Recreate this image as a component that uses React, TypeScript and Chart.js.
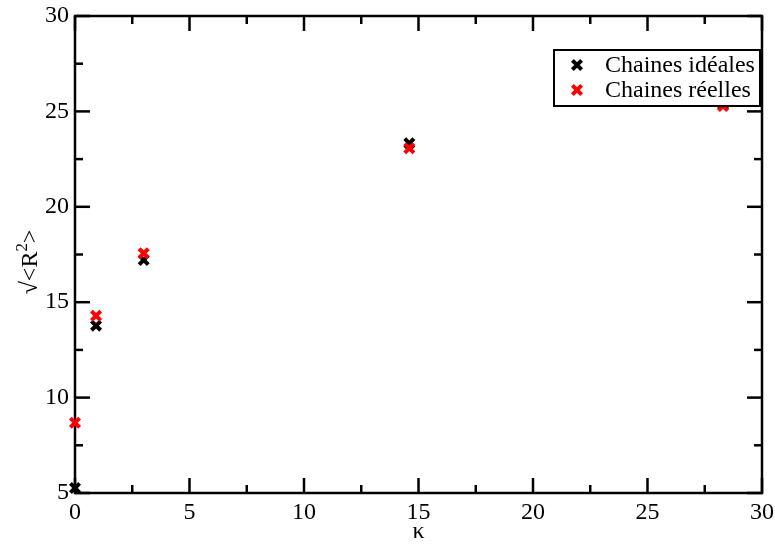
import React, { useEffect, useRef } from "react";
import { Chart, registerables } from "chart.js";

Chart.register(...registerables);

// ---- Data ----
const kappaIdeal = [0, 0.92, 3.0, 14.6, 28.3];
const rIdeal = [5.26, 13.77, 17.21, 23.33, 25.35];
const kappaReal = [0, 0.92, 3.0, 14.6, 28.3];
const rReal = [8.68, 14.29, 17.56, 23.07, 25.28];

const seriesLabels = ["Chaines idéales", "Chaines réelles"];
const seriesColors = ["#000000", "#ff0000"];
const xTitle = "κ";
const yTitleParts = ["√<R", "2", ">"];
const xMajorTicks = [0, 5, 10, 15, 20, 25, 30];
const xMinorTicks = [2.5, 7.5, 12.5, 17.5, 22.5, 27.5];
const yMajorTicks = [5, 10, 15, 20, 25, 30];
const yMinorTicks = [7.5, 12.5, 17.5, 22.5, 27.5];

const FONT = '"Liberation Serif", "Times New Roman", serif';
const FS = 24;

function drawCross(ctx: CanvasRenderingContext2D, cx: number, cy: number, color: string) {
  const o = 4.6;
  ctx.save();
  ctx.strokeStyle = color;
  ctx.lineWidth = 4;
  ctx.beginPath();
  ctx.moveTo(cx - o, cy - o);
  ctx.lineTo(cx + o, cy + o);
  ctx.moveTo(cx + o, cy - o);
  ctx.lineTo(cx - o, cy + o);
  ctx.stroke();
  ctx.restore();
}

const framePlugin = {
  id: "frameDecor",
  beforeDatasetsDraw(chart: any) {
    const { ctx, chartArea } = chart;
    const { left, right, top, bottom } = chartArea;
    const xs = chart.scales.x;
    const ys = chart.scales.y;
    ctx.save();
    ctx.strokeStyle = "#000";
    ctx.lineWidth = 2.5;
    ctx.strokeRect(left, top, right - left, bottom - top);

    const line = (x1: number, y1: number, x2: number, y2: number) => {
      ctx.beginPath();
      ctx.moveTo(x1, y1);
      ctx.lineTo(x2, y2);
      ctx.stroke();
    };
    const MAJ = 15;
    const MIN = 8;
    xMajorTicks.forEach((v) => {
      const p = xs.getPixelForValue(v);
      line(p, bottom, p, bottom - MAJ);
      line(p, top, p, top + MAJ);
    });
    xMinorTicks.forEach((v) => {
      const p = xs.getPixelForValue(v);
      line(p, bottom, p, bottom - MIN);
      line(p, top, p, top + MIN);
    });
    yMajorTicks.forEach((v) => {
      const p = ys.getPixelForValue(v);
      line(left, p, left + MAJ, p);
      line(right, p, right - MAJ, p);
    });
    yMinorTicks.forEach((v) => {
      const p = ys.getPixelForValue(v);
      line(left, p, left + MIN, p);
      line(right, p, right - MIN, p);
    });

    // Axis titles
    ctx.fillStyle = "#000";
    ctx.font = `${FS}px ${FONT}`;
    ctx.textAlign = "center";
    ctx.textBaseline = "alphabetic";
    ctx.fillText(xTitle, (left + right) / 2, 538);

    ctx.save();
    ctx.translate(37, 262);
    ctx.rotate(-Math.PI / 2);
    ctx.textAlign = "left";
    ctx.font = `${FS}px ${FONT}`;
    const w0 = ctx.measureText(yTitleParts[0]).width;
    const w2 = ctx.measureText(yTitleParts[2]).width;
    ctx.font = `${FS * 0.7}px ${FONT}`;
    const w1 = ctx.measureText(yTitleParts[1]).width;
    const total = w0 + w1 + w2;
    let cx = -total / 2;
    ctx.font = `${FS}px ${FONT}`;
    ctx.fillText(yTitleParts[0], cx, 0);
    cx += w0;
    ctx.font = `${FS * 0.7}px ${FONT}`;
    ctx.fillText(yTitleParts[1], cx, -10);
    cx += w1;
    ctx.font = `${FS}px ${FONT}`;
    ctx.fillText(yTitleParts[2], cx, 0);
    ctx.restore();
    ctx.restore();
  },
  afterDatasetsDraw(chart: any) {
    const { ctx } = chart;
    ctx.save();
    // Legend
    const bx = 554, by = 50, bw = 206, bh = 56;
    ctx.fillStyle = "#fff";
    ctx.fillRect(bx, by, bw, bh);
    ctx.lineWidth = 2;
    ctx.strokeStyle = "#000";
    ctx.strokeRect(bx, by, bw, bh);
    const rows = [65, 90];
    seriesLabels.forEach((lab, i) => {
      drawCross(ctx, 577, rows[i], seriesColors[i]);
      ctx.fillStyle = "#000";
      ctx.textAlign = "left";
      ctx.textBaseline = "middle";
      ctx.font = `${FS}px ${FONT}`;
      ctx.fillText(lab, 605, rows[i] + 1);
    });
    ctx.restore();
  },
};

export default function App() {
  const ref = useRef<HTMLCanvasElement | null>(null);
  useEffect(() => {
    if (!ref.current) return;
    const mk = (xs: number[], ys: number[]) => xs.map((x, i) => ({ x, y: ys[i] }));
    const chart = new Chart(ref.current, {
      type: "scatter",
      data: {
        datasets: [
          {
            label: seriesLabels[0],
            data: mk(kappaIdeal, rIdeal),
            pointStyle: "crossRot",
            pointRadius: 6.5,
            pointBorderWidth: 4,
            borderColor: seriesColors[0],
            backgroundColor: seriesColors[0],
            clip: false,
            order: 1,
          },
          {
            label: seriesLabels[1],
            data: mk(kappaReal, rReal),
            pointStyle: "crossRot",
            pointRadius: 6.5,
            pointBorderWidth: 4,
            borderColor: seriesColors[1],
            backgroundColor: seriesColors[1],
            clip: false,
            order: 0,
          },
        ],
      },
      options: {
        animation: false,
        responsive: false,
        devicePixelRatio: 1,
        layout: { padding: { top: 16, right: 13, left: 0, bottom: 0 } },
        plugins: { legend: { display: false }, tooltip: { enabled: false } },
        scales: {
          x: {
            type: "linear",
            min: 0,
            max: 30,
            afterBuildTicks: (s: any) => {
              s.ticks = xMajorTicks.map((v) => ({ value: v }));
            },
            ticks: { color: "#000", font: { family: FONT, size: FS }, padding: 5, maxRotation: 0 },
            grid: { display: false, drawTicks: false },
            border: { display: false },
            afterFit: (s: any) => {
              s.height = 51;
              s.paddingLeft = 0;
              s.paddingRight = 0;
            },
          },
          y: {
            type: "linear",
            min: 5,
            max: 30,
            afterBuildTicks: (s: any) => {
              s.ticks = yMajorTicks.map((v) => ({ value: v }));
            },
            ticks: { color: "#000", font: { family: FONT, size: FS }, padding: 6 },
            grid: { display: false, drawTicks: false },
            border: { display: false },
            afterFit: (s: any) => {
              s.width = 75;
              s.paddingTop = 0;
              s.paddingBottom = 0;
            },
          },
        },
      },
      plugins: [framePlugin],
    } as any);
    return () => chart.destroy();
  }, []);
  return (
    <div style={{ position: "absolute", left: 0, top: 0, width: 775, height: 544, background: "#fff" }}>
      <canvas ref={ref} width={775} height={544} />
    </div>
  );
}
